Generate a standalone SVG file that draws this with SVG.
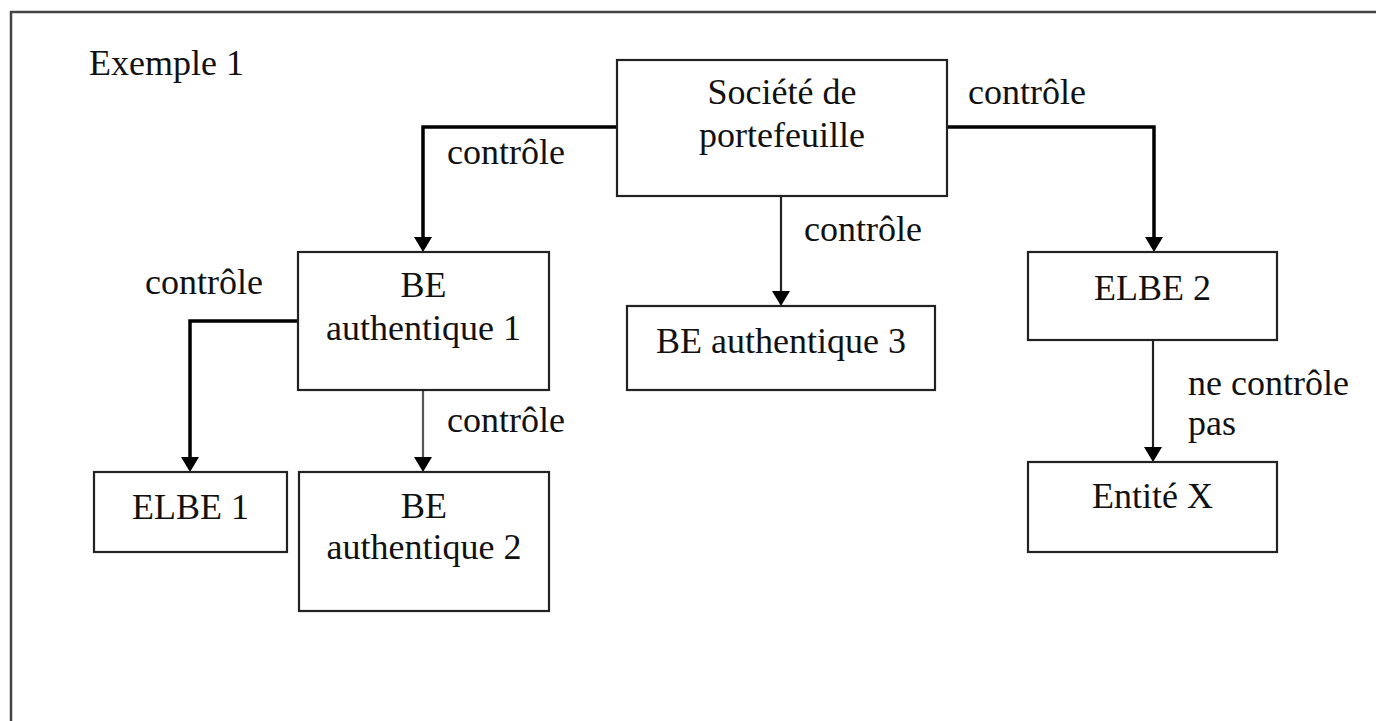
<svg xmlns="http://www.w3.org/2000/svg" width="1376" height="721" viewBox="0 0 1376 721">
  <style>
    text { font-family: "Liberation Serif", "Times New Roman", serif; font-size: 36px; fill: #111; }
    .c { text-anchor: middle; }
    .box { fill: #fff; stroke: #222; stroke-width: 2.2; }
    .thick { fill: none; stroke: #000; stroke-width: 3.5; }
    .thin { fill: none; stroke: #222; stroke-width: 2.2; }
    .grey { fill: none; stroke: #555; stroke-width: 2.2; }
  </style>
  <defs>
    <marker id="arr" viewBox="0 0 15 18" refX="11" refY="9" markerWidth="15" markerHeight="18" markerUnits="userSpaceOnUse" orient="auto">
      <path d="M0,0 L15,9 L0,18 z" fill="#000"/>
    </marker>
  </defs>
  <rect width="1376" height="721" fill="#fff"/>
  <rect x="11" y="12" width="1400" height="760" fill="none" stroke="#444" stroke-width="2.5"/>
  <text x="89" y="75">Exemple 1</text>

  <g id="connectors">
    <path class="thick" d="M616,127 H423 V248" marker-end="url(#arr)"/>
    <path class="thick" d="M947,127 H1154 V248" marker-end="url(#arr)"/>
    <path class="thin" d="M781,196 V302" marker-end="url(#arr)"/>
    <path class="thick" d="M298,321 H190 V468" marker-end="url(#arr)"/>
    <path class="grey" d="M423,390 V468" marker-end="url(#arr)"/>
    <path class="thin" d="M1153,340 V458" marker-end="url(#arr)"/>
    <text x="447" y="164">contrôle</text>
    <text x="968" y="104">contrôle</text>
    <text x="804" y="241">contrôle</text>
    <text x="145" y="294">contrôle</text>
    <text x="447" y="432">contrôle</text>
    <text x="1188" y="395">ne contrôle</text>
    <text x="1188" y="435">pas</text>
  </g>

  <g id="societe">
    <rect class="box" x="617" y="60" width="330" height="136"/>
    <text class="c" x="782" y="104">Société de</text>
    <text class="c" x="782" y="147">portefeuille</text>
  </g>
  <g id="be1">
    <rect class="box" x="298" y="252" width="251" height="138"/>
    <text class="c" x="423.5" y="297">BE</text>
    <text class="c" x="423.5" y="340">authentique 1</text>
  </g>
  <g id="be3">
    <rect class="box" x="627" y="306" width="308" height="84"/>
    <text class="c" x="781" y="353">BE authentique 3</text>
  </g>
  <g id="elbe2">
    <rect class="box" x="1028" y="252" width="249" height="88"/>
    <text class="c" x="1152.5" y="300">ELBE 2</text>
  </g>
  <g id="elbe1">
    <rect class="box" x="94" y="472" width="193" height="80"/>
    <text class="c" x="190.5" y="519">ELBE 1</text>
  </g>
  <g id="be2">
    <rect class="box" x="299" y="472" width="250" height="139"/>
    <text class="c" x="424" y="518">BE</text>
    <text class="c" x="424" y="559">authentique 2</text>
  </g>
  <g id="entitex">
    <rect class="box" x="1028" y="462" width="249" height="90"/>
    <text class="c" x="1152.5" y="508">Entité X</text>
  </g>
</svg>
